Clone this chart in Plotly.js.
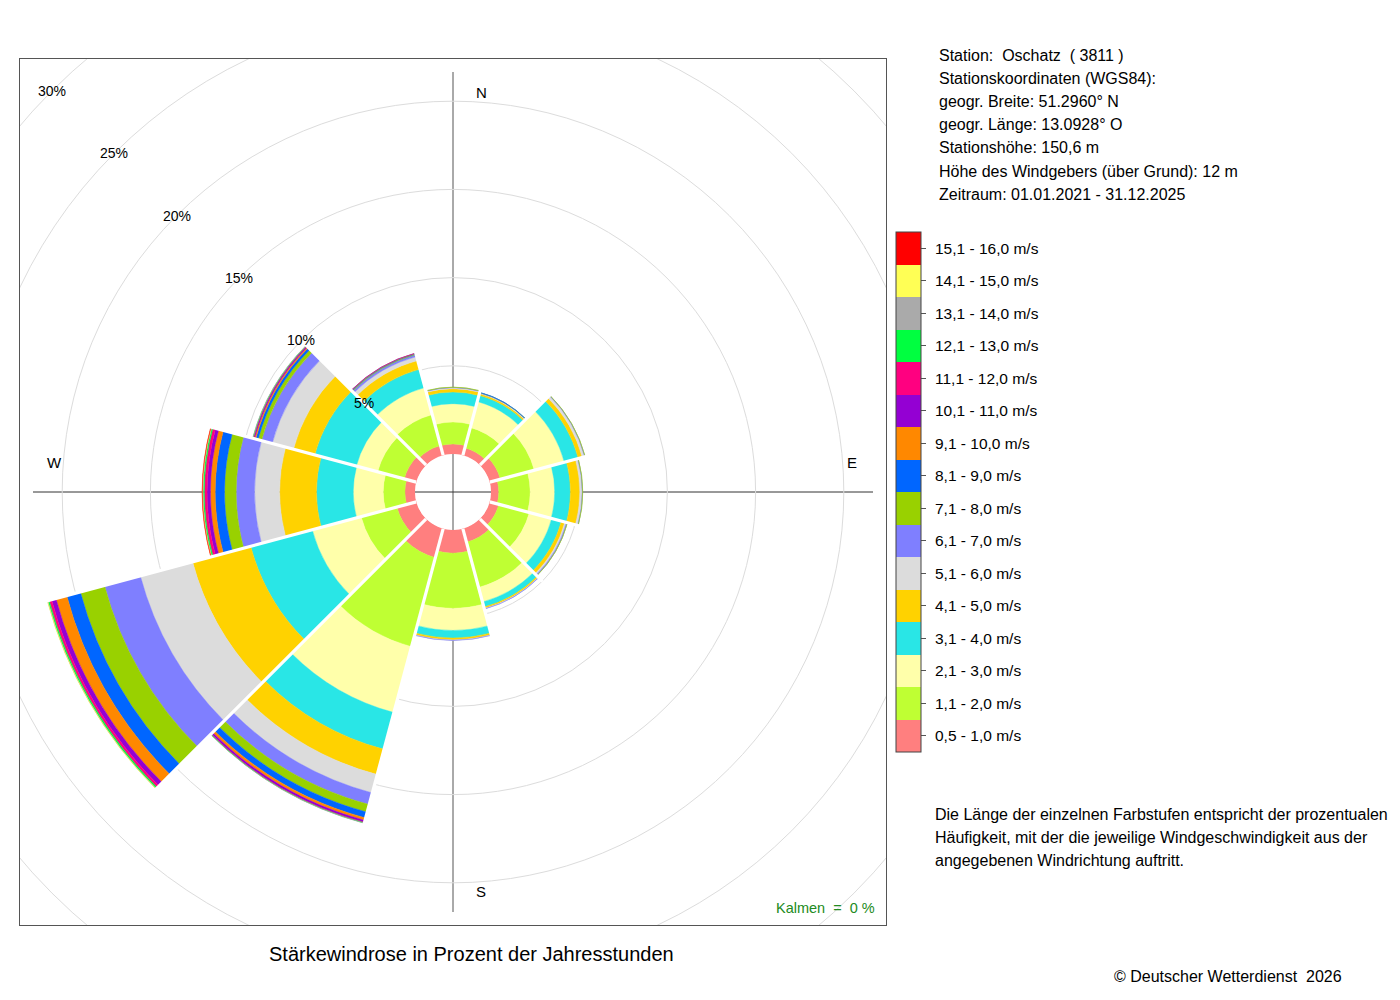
<!DOCTYPE html>
<html>
<head>
<meta charset="utf-8">
<script src="https://cdn.plot.ly/plotly-3.0.1.min.js"></script>
<style>html,body{margin:0;padding:0;background:#fff}#chart{width:1400px;height:1000px}</style>
</head>
<body>
<div id="chart"></div>
<script>
// ---------- data ----------
const directions = [0, 30, 60, 90, 120, 150, 180, 210, 240, 270, 300, 330];
const speedClasses = ['0,5 - 1,0 m/s','1,1 - 2,0 m/s','2,1 - 3,0 m/s','3,1 - 4,0 m/s','4,1 - 5,0 m/s',
  '5,1 - 6,0 m/s','6,1 - 7,0 m/s','7,1 - 8,0 m/s','8,1 - 9,0 m/s','9,1 - 10,0 m/s','10,1 - 11,0 m/s',
  '11,1 - 12,0 m/s','12,1 - 13,0 m/s','13,1 - 14,0 m/s','14,1 - 15,0 m/s','15,1 - 16,0 m/s'];
const classColors = ['#FF7F7F','#BFFF33','#FFFFAA','#29E6E6','#FFD200','#DCDCDC','#7F7FFF','#99D100',
  '#0066FF','#FF8800','#9400D3','#FF0080','#00FF40','#AAAAAA','#FFFF55','#FF0000'];
// percent of hours per direction (N, 30, 60, E, 120, 150, S, 210, 240, W, 300, 330)
const c00 = [0.57, 0.44, 0.63, 0.44, 0.54, 0.80, 1.31, 1.70, 1.14, 0.57, 0.71, 0.57];
const c01 = [1.24, 1.19, 1.99, 1.78, 1.79, 2.65, 3.13, 5.23, 2.10, 1.23, 1.56, 1.82];
const c02 = [1.04, 1.53, 1.76, 1.39, 1.31, 0.85, 1.25, 3.86, 2.87, 1.70, 1.25, 1.59];
const c03 = [0.66, 0.37, 0.82, 0.89, 0.57, 0.30, 0.43, 2.16, 3.61, 2.08, 2.44, 1.08];
const c04 = [0.19, 0.09, 0.23, 0.53, 0.20, 0.08, 0.11, 1.48, 3.41, 2.09, 1.25, 0.51];
const c05 = [0.05, 0.04, 0.14, 0.13, 0.09, 0.03, 0.02, 1.08, 3.07, 1.42, 1.25, 0.23];
const c06 = [0.03, 0.02, 0.03, 0.03, 0.06, 0.01, 0.01, 0.68, 2.10, 1.04, 0.63, 0.11];
const c07 = [0.01, 0.01, 0.01, 0.01, 0.01, 0.00, 0.00, 0.45, 1.42, 0.66, 0.20, 0.04];
const c08 = [0.00, 0.01, 0.00, 0.00, 0.00, 0.00, 0.00, 0.34, 0.80, 0.53, 0.14, 0.03];
const c09 = [0.00, 0.00, 0.00, 0.00, 0.00, 0.00, 0.00, 0.14, 0.63, 0.27, 0.07, 0.02];
const c10 = [0.00, 0.00, 0.00, 0.00, 0.00, 0.00, 0.00, 0.11, 0.26, 0.19, 0.05, 0.01];
const c11 = [0.00, 0.00, 0.00, 0.00, 0.00, 0.00, 0.00, 0.03, 0.14, 0.15, 0.03, 0.00];
const c12 = [0.00, 0.00, 0.00, 0.00, 0.00, 0.00, 0.00, 0.02, 0.08, 0.07, 0.02, 0.00];
const c13 = [0.00, 0.00, 0.00, 0.00, 0.00, 0.00, 0.00, 0.01, 0.02, 0.03, 0.01, 0.00];
const c14 = [0.00, 0.00, 0.00, 0.00, 0.00, 0.00, 0.00, 0.00, 0.01, 0.02, 0.00, 0.00];
const c15 = [0.00, 0.00, 0.00, 0.00, 0.00, 0.00, 0.00, 0.00, 0.00, 0.01, 0.00, 0.00];
const classValues = [c00,c01,c02,c03,c04,c05,c06,c07,c08,c09,c10,c11,c12,c13,c14,c15];

const gridPercents = [5, 10, 15, 20, 25, 30];
const compassLabels = ['N', 'E', 'S', 'W'];
const stationInfo = [
  'Station:\u00A0 Oschatz\u00A0 ( 3811 )',
  'Stationskoordinaten (WGS84):',
  'geogr. Breite: 51.2960° N',
  'geogr. Länge: 13.0928° O',
  'Stationshöhe: 150,6 m',
  'Höhe des Windgebers (über Grund): 12 m',
  'Zeitraum: 01.01.2021 - 31.12.2025'
];
const noteLines = [
  'Die Länge der einzelnen Farbstufen entspricht der prozentualen',
  'Häufigkeit, mit der die jeweilige Windgeschwindigkeit aus der',
  'angegebenen Windrichtung auftritt.'
];
const calmText = 'Kalmen\u00A0 =\u00A0 0 %';
const chartTitle = 'Stärkewindrose in Prozent der Jahresstunden';
const copyright = '© Deutscher Wetterdienst\u00A0 2026';

// ---------- geometry ----------
const W = 1400, H = 1000;
const BOX_L = 20, BOX_T = 59, BOX = 866;
const HALF = BOX / 2;
const PX_PER_PCT = 17.64;
const HOLE_PX = 38;
const rMax = (HALF - HOLE_PX) / PX_PER_PCT;
const holeU = HOLE_PX / PX_PER_PCT;        // hole radius in percent units (cartesian frame)
const halfU = HALF / PX_PER_PCT;
const FONT = 'Liberation Sans, Arial, Helvetica, sans-serif';

const domX = [BOX_L / W, (BOX_L + BOX) / W];
const domY = [1 - (BOX_T + BOX) / H, 1 - BOX_T / H];

// colour key geometry
const KEY_X = 896, KEY_TOP = 232, KEY_LEN = 520, KEY_THICK = 24.5;
const keyStep = KEY_LEN / speedClasses.length;

// ---------- traces ----------
const traces = [];
classValues.forEach((vals, i) => {
  traces.push({
    type: 'barpolar', r: vals, theta: directions, width: directions.map(() => 30),
    name: speedClasses[i], showlegend: false, hoverinfo: 'skip',
    marker: { color: classColors[i], line: { color: classColors[i], width: 0.4 } }
  });
});

// white separators between sectors
const totals = directions.map((_, k) => classValues.reduce((s, a) => s + a[k], 0));
const sepR = [], sepT = [];
directions.forEach((d, k) => {
  const next = (k + 1) % directions.length;
  const rEnd = Math.max(totals[k], totals[next]) + 0.3;
  sepR.push(0, rEnd, null);
  const t = d + 15;
  sepT.push(t, t, null);
});
traces.push({
  type: 'scatterpolar', mode: 'lines', r: sepR, theta: sepT, connectgaps: false,
  line: { color: '#ffffff', width: 3.2 }, hoverinfo: 'skip', showlegend: false
});

// colour key (colorbar of a dummy trace)
const colorscale = [];
classColors.forEach((c, i) => { colorscale.push([i / 16, c]); colorscale.push([(i + 1) / 16, c]); });
traces.push({
  type: 'scatter', x: [null], y: [null], mode: 'markers', hoverinfo: 'skip', showlegend: false,
  marker: {
    color: [0], cmin: 0, cmax: 16, colorscale: colorscale, showscale: true,
    colorbar: {
      x: KEY_X / W, xanchor: 'left', xpad: 0, y: 1 - KEY_TOP / H, yanchor: 'top', ypad: 0,
      len: KEY_LEN, lenmode: 'pixels', thickness: KEY_THICK, thicknessmode: 'pixels',
      outlinewidth: 1, outlinecolor: '#444', borderwidth: 0,
      tickmode: 'array', tickvals: classColors.map((_, i) => i + 0.5), ticktext: speedClasses,
      showticklabels: false,
      ticks: 'outside', ticklen: 5, tickwidth: 1, tickcolor: '#555'
    }
  }
});

// ---------- shapes ----------
const shapes = [];
// outer grid circles (clipped to the frame)
gridPercents.filter(p => p > rMax).forEach(p => {
  const rr = p + holeU;
  shapes.push({ type: 'circle', xref: 'x', yref: 'y', x0: -rr, x1: rr, y0: -rr, y1: rr,
    line: { color: '#dcdcdc', width: 1 }, layer: 'below' });
});
// N-S / W-E cross
const crossU = 420 / PX_PER_PCT;
shapes.push({ type: 'line', xref: 'x', yref: 'y', x0: 0, x1: 0, y0: -crossU, y1: crossU, line: { color: '#555', width: 1 }, layer: 'below' });
shapes.push({ type: 'line', xref: 'x', yref: 'y', x0: -crossU, x1: crossU, y0: 0, y1: 0, line: { color: '#333', width: 1 }, layer: 'below' });

// ---------- annotations ----------
const ann = [];
gridPercents.forEach(p => {
  const rr = (p + holeU) / Math.SQRT2;
  ann.push({ xref: 'x', yref: 'y', x: -rr, y: rr, text: p + '%', showarrow: false,
    xanchor: 'center', yanchor: 'middle', font: { family: FONT, size: 14, color: '#000' } });
});
const labR = 399 / PX_PER_PCT;
const compassPos = [[0, labR, 28, 0], [labR, 0, 0, 29], [0, -labR, 28, 0], [-labR, 0, 0, 29]];
compassLabels.forEach((t, i) => {
  const p = compassPos[i];
  ann.push({ xref: 'x', yref: 'y', x: p[0], y: p[1], xshift: p[2], yshift: p[3], text: t, showarrow: false,
    xanchor: 'center', yanchor: 'middle', font: { family: FONT, size: 15, color: '#000' } });
});
// colour key labels (top = fastest class)
speedClasses.forEach((t, i) => {
  const yc = KEY_TOP + KEY_LEN - (i + 0.5) * keyStep;
  ann.push({ xref: 'paper', yref: 'paper', x: 933 / W, y: 1 - yc / H, text: t, showarrow: false,
    xanchor: 'left', yanchor: 'middle', font: { family: FONT, size: 15.5, color: '#000' } });
});
stationInfo.forEach((t, i) => {
  ann.push({ xref: 'paper', yref: 'paper', x: 937 / W, y: 1 - (55 + i * 23.2) / H, text: t, showarrow: false,
    xanchor: 'left', yanchor: 'middle', font: { family: FONT, size: 16, color: '#000' } });
});
noteLines.forEach((t, i) => {
  ann.push({ xref: 'paper', yref: 'paper', x: 933 / W, y: 1 - (814 + i * 23) / H, text: t, showarrow: false,
    xanchor: 'left', yanchor: 'middle', font: { family: FONT, size: 16, color: '#000' } });
});
ann.push({ xref: 'paper', yref: 'paper', x: 877 / W, y: 1 - 908 / H, text: calmText, showarrow: false,
  xanchor: 'right', yanchor: 'middle', font: { family: FONT, size: 14.5, color: '#228B22' } });
ann.push({ xref: 'paper', yref: 'paper', x: 471 / W, y: 1 - 954 / H, text: chartTitle, showarrow: false,
  xanchor: 'center', yanchor: 'middle', font: { family: FONT, size: 20, color: '#000' } });
ann.push({ xref: 'paper', yref: 'paper', x: 1344 / W, y: 1 - 976 / H, text: copyright, showarrow: false,
  xanchor: 'right', yanchor: 'middle', font: { family: FONT, size: 16, color: '#000' } });

// ---------- layout ----------
const layout = {
  width: W, height: H, margin: { l: 0, r: 0, t: 0, b: 0, pad: 0 },
  paper_bgcolor: '#fff', plot_bgcolor: 'rgba(0,0,0,0)', showlegend: false,
  font: { family: FONT, color: '#000' },
  xaxis: { domain: domX, range: [-halfU, halfU], showgrid: false, zeroline: false, showticklabels: false,
    ticks: '', showline: true, mirror: true, linecolor: '#555', linewidth: 1, fixedrange: true },
  yaxis: { domain: domY, range: [-halfU, halfU], showgrid: false, zeroline: false, showticklabels: false,
    ticks: '', showline: true, mirror: true, linecolor: '#555', linewidth: 1, fixedrange: true },
  polar: {
    domain: { x: domX, y: domY }, bgcolor: 'rgba(0,0,0,0)', hole: HOLE_PX / HALF,
    barmode: 'stack', bargap: 0,
    radialaxis: { range: [0, rMax], tickmode: 'array', tickvals: gridPercents.filter(p => p < rMax),
      showticklabels: false, ticks: '', showline: false, gridcolor: '#dcdcdc', gridwidth: 1 },
    angularaxis: { rotation: 90, direction: 'clockwise', showline: false, showticklabels: false,
      ticks: '', showgrid: false }
  },
  shapes: shapes, annotations: ann
};

Plotly.newPlot('chart', traces, layout, { displayModeBar: false, staticPlot: true });
</script>
</body>
</html>
